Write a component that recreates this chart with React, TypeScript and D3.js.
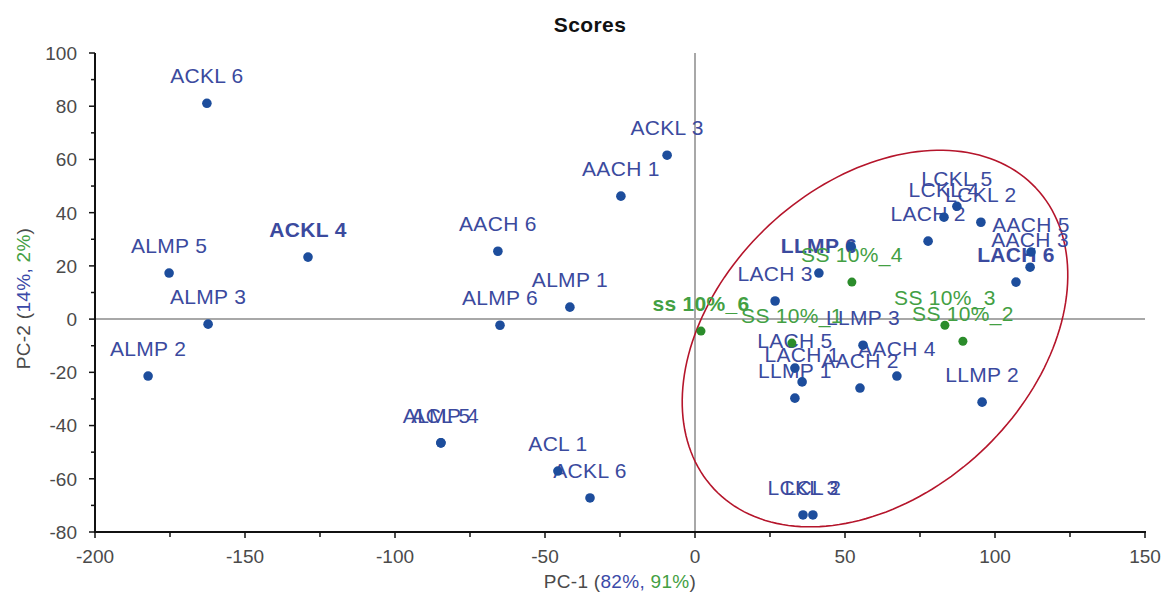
import React from "react";
import * as d3 from "d3";

// ---- data ----
const xTicks = [-200, -150, -100, -50, 0, 50, 100, 150];
const yTicks = [-80, -60, -40, -20, 0, 20, 40, 60, 80, 100];

const sampleNames = [
  "ACKL 6", "ALMP 5", "ALMP 3", "ALMP 2", "ACKL 4", "AACH 6", "ALMP 6", "ALMP 1",
  "AACH 1", "ACKL 3", "ALMP 4", "ACL 5", "ACL 1", "ACKL 6",
  "LCKL 5", "LCKL 4", "LCKL 2", "LACH 2", "AACH 5", "AACH 3", "LACH 6", "",
  "LLMP 6", "LACH 3", "LLMP 3", "AACH 4", "AACH 2", "LLMP 2", "LACH 5", "LACH 1",
  "LLMP 1", "LCKL 3", "LCL 2",
];
const samplePC1 = [
  -162.7, -175.3, -162.3, -182.3, -129, -65.7, -65, -41.7,
  -24.7, -9.3, -84.7, -84.7, -45.7, -35,
  87.3, 83, 95.3, 77.7, 112, 111.7, 107, 52,
  41.3, 26.7, 56, 67.3, 55, 95.7, 33.3, 35.7,
  33.3, 36, 39.3,
];
const samplePC2 = [
  81.1, 17.3, -1.9, -21.4, 23.3, 25.5, -2.3, 4.5,
  46.2, 61.6, -46.5, -46.5, -57.1, -67.2,
  42.4, 38.3, 36.4, 29.3, 25.2, 19.5, 13.9, 27.4,
  17.3, 6.8, -9.8, -21.4, -25.9, -31.2, -18.4, -23.6,
  -29.7, -73.6, -73.6,
];

const ssNames = ["ss 10%_6", "SS 10%_4", "SS 10%_3", "SS 10%_2", "SS 10%_1"];
const ssPC1 = [2, 52.3, 83.3, 89.3, 32.3];
const ssPC2 = [-4.5, 13.9, -2.3, -8.3, -9];

// confidence ellipse (data units): centre and two semi-axis vectors
const ellipseCenter = [60, -7.3];
const ellipseAxisA = [53.7, 56.5];
const ellipseAxisB = [35.3, -42.6];

const boldLabels = ["ACKL 4", "LLMP 6", "LACH 6", "ss 10%_6"];

// ---- styling ----
const W = 1169;
const H = 594;
const FONT = "'Liberation Sans', Arial, sans-serif";
const BLUE_PT = "#1d4d9c";
const BLUE_TXT = "#3b4a9e";
const GREEN_PT = "#2b8c2b";
const GREEN_TXT = "#43a043";
const AXIS_TXT = "#4a4a4a";

export default function App() {
  const x = d3.scaleLinear().domain([-200, 150]).range([95, 1145]);
  const y = d3.scaleLinear().domain([-80, 100]).range([532, 53]);

  const xMinor = d3.range(-200, 151, 25);
  const yMinor = d3.range(-80, 101, 10);

  const samples = sampleNames.map((n, i) => ({ n, a: samplePC1[i], b: samplePC2[i] }));
  const ss = ssNames.map((n, i) => ({ n, a: ssPC1[i], b: ssPC2[i] }));

  const tt = d3.range(0, 2 * Math.PI + 0.001, Math.PI / 90);
  const ellipsePts: [number, number][] = tt.map((t) => [
    ellipseCenter[0] + Math.cos(t) * ellipseAxisA[0] + Math.sin(t) * ellipseAxisB[0],
    ellipseCenter[1] + Math.cos(t) * ellipseAxisA[1] + Math.sin(t) * ellipseAxisB[1],
  ]);
  const ellipsePath =
    d3
      .line<[number, number]>()
      .x((d) => x(d[0]))
      .y((d) => y(d[1]))(ellipsePts) || "";

  const x0 = x(-200);
  const x1 = x(150);
  const y0 = y(-80);
  const y1 = y(100);

  return (
    <svg
      width={W}
      height={H}
      style={{ position: "absolute", left: 0, top: 0, background: "#fff" }}
      fontFamily={FONT}
    >
      <rect width={W} height={H} fill="#fff" />
      {/* title */}
      <text x={590} y={32} textAnchor="middle" fontSize={21} fontWeight="bold" letterSpacing={0.4} fill="#111">
        Scores
      </text>

      {/* zero lines */}
      <line x1={x(0)} x2={x(0)} y1={y1} y2={y0} stroke="#a8a8a8" strokeWidth={2} />
      <line x1={x0} x2={x1} y1={y(0)} y2={y(0)} stroke="#a8a8a8" strokeWidth={2} />

      {/* axes */}
      <line x1={x0} x2={x0} y1={y1} y2={y0 + 1} stroke="#111" strokeWidth={2} />
      <line x1={x0 - 1} x2={x1 + 1} y1={y0} y2={y0} stroke="#111" strokeWidth={2} />

      {yMinor.map((v) => (
        <line key={"ym" + v} x1={x0} x2={x0 - (v % 20 === 0 ? 6 : 4)} y1={y(v)} y2={y(v)} stroke="#111" strokeWidth={1.5} />
      ))}
      {xMinor.map((v) => (
        <line key={"xm" + v} x1={x(v)} x2={x(v)} y1={y0} y2={y0 + (v % 50 === 0 ? 6 : 5)} stroke="#111" strokeWidth={1.5} />
      ))}

      {yTicks.map((v) => (
        <text key={"yt" + v} x={77} y={y(v)} dy="0.36em" textAnchor="end" fontSize={19} fill={AXIS_TXT}>
          {v}
        </text>
      ))}
      {xTicks.map((v) => (
        <text key={"xt" + v} x={x(v)} y={563} textAnchor="middle" fontSize={19} fill={AXIS_TXT}>
          {v}
        </text>
      ))}

      {/* axis titles */}
      <text x={620} y={588} textAnchor="middle" fontSize={19} letterSpacing={0.3} fill={AXIS_TXT}>
        PC-1 (<tspan fill="#3b4aa8">82%,</tspan> <tspan fill={GREEN_TXT}>91%</tspan>)
      </text>
      <text
        transform={`translate(30, ${(y0 + y1) / 2 + 6}) rotate(-90)`}
        textAnchor="middle"
        fontSize={19}
        letterSpacing={0.3}
        fill={AXIS_TXT}
      >
        PC-2 (<tspan fill="#3b4aa8">14%,</tspan> <tspan fill={GREEN_TXT}>2%</tspan>)
      </text>

      {/* ellipse */}
      <path d={ellipsePath} fill="none" stroke="#b5152b" strokeWidth={1.6} />

      {/* labels */}
      {samples.map((d, i) => (
        <text
          key={"sl" + i}
          x={x(d.a)}
          y={y(d.b) - 20}
          textAnchor="middle"
          fontSize={21}
          letterSpacing={0.3}
          fontWeight={boldLabels.includes(d.n) ? "bold" : "normal"}
          fill={BLUE_TXT}
        >
          {d.n}
        </text>
      ))}
      {ss.map((d, i) => (
        <text
          key={"gl" + i}
          x={x(d.a)}
          y={y(d.b) - 20}
          textAnchor="middle"
          fontSize={21}
          letterSpacing={0.3}
          fontWeight={boldLabels.includes(d.n) ? "bold" : "normal"}
          fill={GREEN_TXT}
        >
          {d.n}
        </text>
      ))}

      {/* points */}
      {samples.map((d, i) => (
        <circle key={"sp" + i} cx={x(d.a)} cy={y(d.b)} r={4.8} fill={BLUE_PT} />
      ))}
      {ss.map((d, i) => (
        <circle key={"gp" + i} cx={x(d.a)} cy={y(d.b)} r={4.5} fill={GREEN_PT} />
      ))}
    </svg>
  );
}
